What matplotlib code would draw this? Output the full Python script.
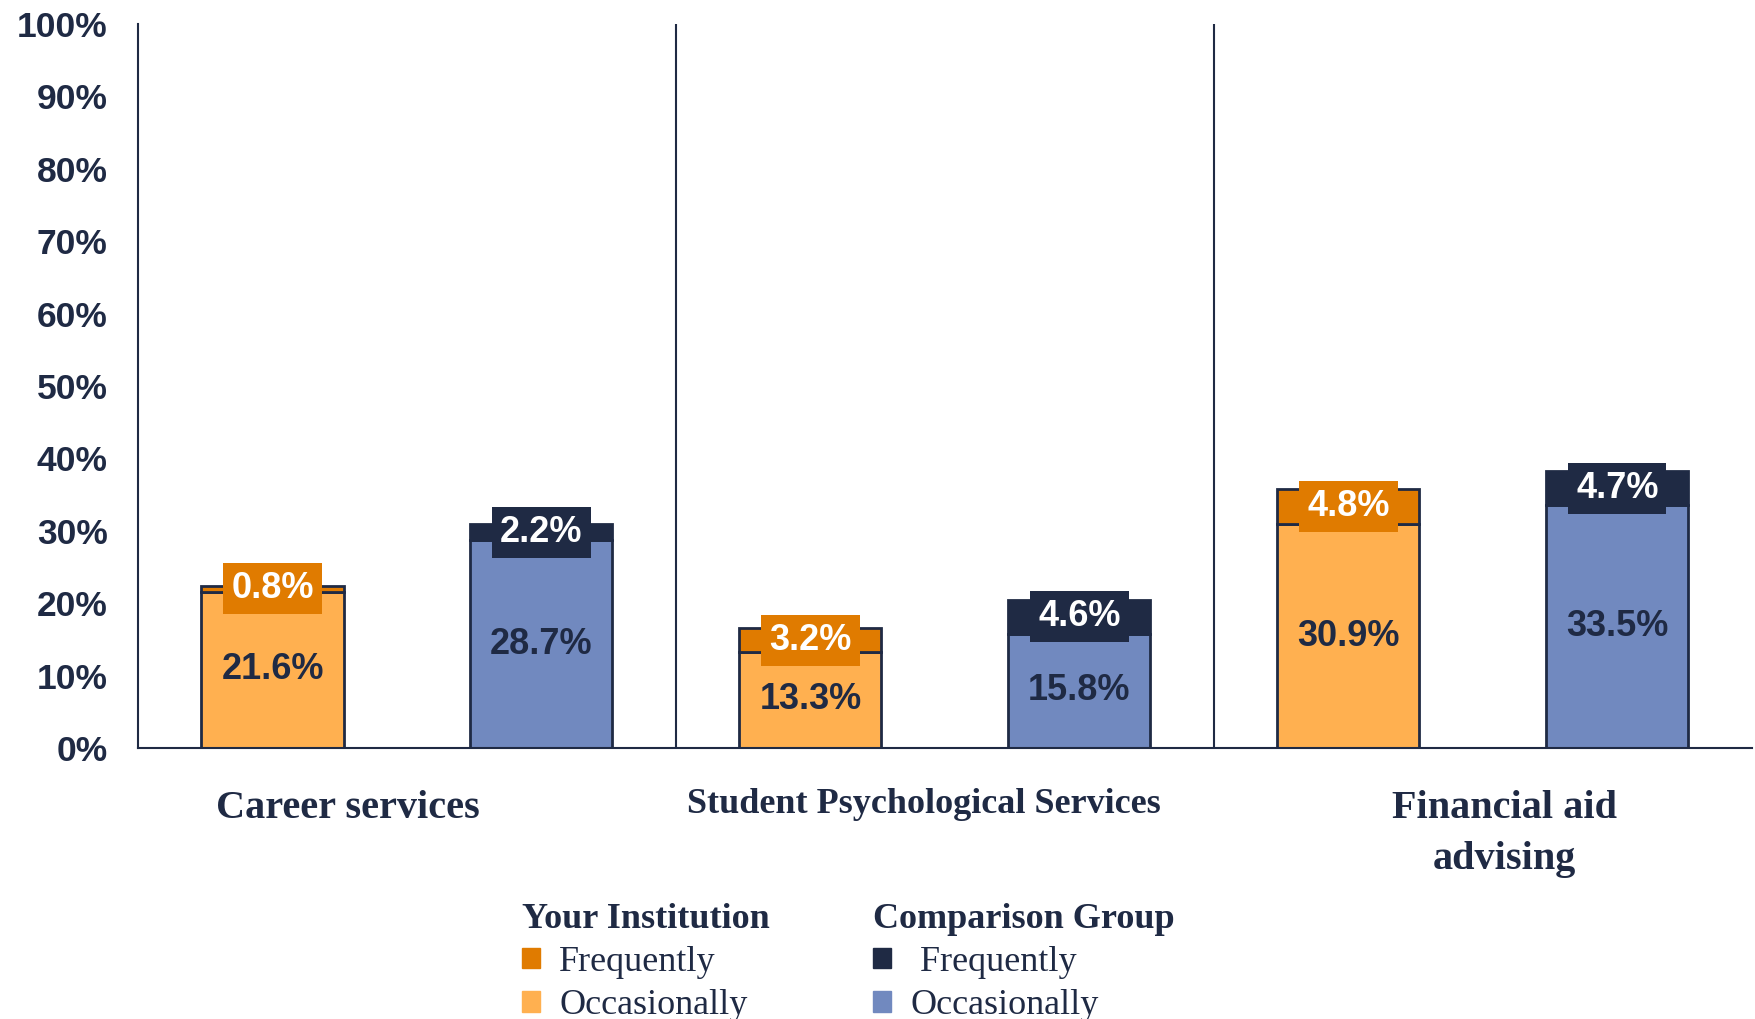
import matplotlib.pyplot as plt
from matplotlib.patches import Patch
from matplotlib.ticker import PercentFormatter
import numpy as np

categories = ['Career services', 'Student Psychological Services', 'Financial aid\nadvising']
inst_occasionally = [21.6, 13.3, 30.9]
inst_frequently = [0.8, 3.2, 4.8]
comp_occasionally = [28.7, 15.8, 33.5]
comp_frequently = [2.2, 4.6, 4.7]

navy = '#1F2A44'
orange_dark = '#E07B00'
orange_light = '#FFB050'
blue_light = '#7189BF'

x = np.arange(len(categories))
width = 0.264
offset = 0.25

fig = plt.figure(figsize=(17.56, 10.19), dpi=100)
ax = fig.add_axes([0.0786, 0.266, 0.919, 0.7105])


def stacked(xpos, occ, freq, c_occ, c_freq):
    occ = np.array(occ) / 100
    freq = np.array(freq) / 100
    ax.bar(xpos, occ, width, color=c_occ, edgecolor=navy, linewidth=2, zorder=2)
    ax.bar(xpos, freq, width, bottom=occ, color=c_freq, edgecolor=navy, linewidth=2, zorder=2)
    for xi, o, f in zip(xpos, occ, freq):
        ax.text(xi, o / 2, f'{o*100:.1f}%', ha='center', va='center', fontsize=26,
                fontweight='bold', color=navy, family='Liberation Sans', zorder=3)
        ax.text(xi, o + f / 2, f'{f*100:.1f}%', ha='center', va='center', fontsize=26,
                fontweight='bold', color='white', family='Liberation Sans', zorder=4,
                bbox=dict(boxstyle='square,pad=0.22', facecolor=c_freq, edgecolor='none'))


stacked(x - offset, inst_occasionally, inst_frequently, orange_light, orange_dark)
stacked(x + offset, comp_occasionally, comp_frequently, blue_light, navy)

ax.set_xlim(-0.5, 2.5)
ax.set_ylim(0, 1)
ax.set_yticks(np.arange(0, 1.01, 0.1))
ax.yaxis.set_major_formatter(PercentFormatter(1.0, decimals=0))
ax.tick_params(axis='y', length=0, pad=22, labelsize=25.5, labelcolor=navy)
for lab in ax.get_yticklabels():
    lab.set_fontweight('bold')
    lab.set_family('Liberation Sans')
ax.set_xticks([])
for s in ['top', 'right']:
    ax.spines[s].set_visible(False)
ax.spines['left'].set_color(navy)
ax.spines['bottom'].set_color(navy)
ax.spines['left'].set_linewidth(1.5)
ax.spines['bottom'].set_linewidth(1.5)
for d in [0.5, 1.5]:
    ax.axvline(d, 0, 1, color=navy, linewidth=1.5, zorder=1)

# category labels below axis
label_dx = [-0.11, -0.04, 0.04]
label_size = [29, 26, 29]
label_y = [-0.058, -0.055, -0.058]
for i, cat in enumerate(categories):
    ax.text(x[i] + label_dx[i], label_y[i], cat, ha='center', va='top', fontsize=label_size[i],
            fontweight='bold', color=navy, family='Liberation Serif',
            transform=ax.get_xaxis_transform(), linespacing=1.5)

# legends
leg_kw = dict(frameon=False, handlelength=0.5, handleheight=0.5, handletextpad=0.55,
              labelspacing=0.28, prop={'family': 'Liberation Serif', 'size': 26},
              title_fontproperties={'family': 'Liberation Serif', 'size': 26, 'weight': 'bold'},
              alignment='left', borderaxespad=0, borderpad=0)
leg1 = fig.legend([Patch(color=orange_dark), Patch(color=orange_light)],
                  ['Frequently', 'Occasionally'], title='Your Institution',
                  loc='upper left', bbox_to_anchor=(0.297, 0.114), **leg_kw)
leg2 = fig.legend([Patch(color=navy), Patch(color=blue_light)],
                  [' Frequently', 'Occasionally'], title='Comparison Group',
                  loc='upper left', bbox_to_anchor=(0.497, 0.114), **leg_kw)
for leg in (leg1, leg2):
    leg.get_title().set_color(navy)
    for t in leg.get_texts():
        t.set_color(navy)

fig.savefig('out.png', dpi=100)
